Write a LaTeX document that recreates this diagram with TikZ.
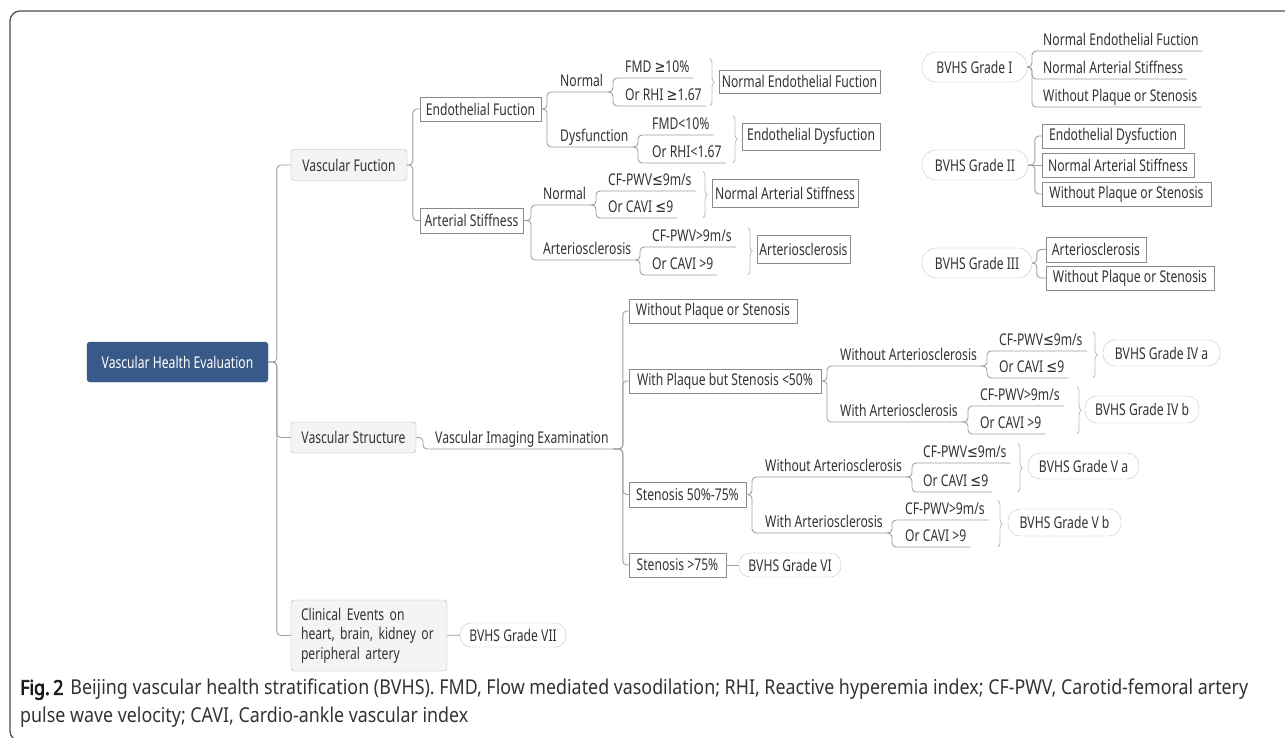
\documentclass[tikz,border=0pt]{standalone}
\usepackage{fontspec}
\setmainfont{Noto Sans}[FakeStretch=0.75]
\newfontfamily\capfont{Noto Sans}[FakeStretch=0.87]
\newfontfamily\capboldfont{Noto Sans}[FakeStretch=0.87, FakeBold=3]
\newfontfamily\symfont{DejaVu Sans}[FakeStretch=0.8]
\newcommand{\symge}{{\symfont ≥}}
\newcommand{\symle}{{\symfont ≤}}
\usepackage{tikz}
\usetikzlibrary{positioning,decorations.pathreplacing}

\definecolor{rootblue}{HTML}{385A88}
\definecolor{txt}{HTML}{333333}
\definecolor{linegray}{HTML}{A0A0A0}
\definecolor{boxline}{HTML}{8A8A8A}
\definecolor{pillline}{HTML}{C9C3B9}
\definecolor{topicfill}{HTML}{F4F4F4}
\definecolor{topicline}{HTML}{B2B2B2}
\definecolor{bracegray}{HTML}{BDBDBD}
\definecolor{framegray}{HTML}{4F4F4F}

\begin{document}
\begin{tikzpicture}[x=1pt, y=-1pt,
    every node/.style={font=\fontsize{16.2}{19.5}\selectfont, text=txt},
    root/.style={fill=rootblue, draw=rootblue, rounded corners=3, text=white, minimum width=181, minimum height=40, inner sep=0},
    topic/.style={draw=topicline, fill=topicfill, rounded corners=3, inner sep=0, minimum height=31},
    box/.style={draw=boxline, inner sep=0, minimum height=24},
    pill/.style={draw=pillline, rounded corners=12, inner sep=0, minimum height=26},
    cond/.style={anchor=south west, inner xsep=4, inner ysep=1.5, text height=12, text depth=4},
    link/.style={draw=linegray, line width=0.9, rounded corners=4},
    curly/.style={decorate, decoration={brace, amplitude=4.5}, draw=bracegray, line width=0.8},
    frame/.style={draw=framegray, line width=1.3, rounded corners=10},
    caption/.style={font=\capfont\fontsize{20.5}{28}\selectfont, align=left, inner sep=0, anchor=north west}
]
\useasboundingbox (0,0) rectangle (1285,738);
\draw[frame] (10,741) rectangle (1300,11);

% root and first level
\node[root] (root) at (177.5,362) {Vascular Health Evaluation};
\node[topic, minimum width=116] (vf) at (349,165) {Vascular Fuction};
\node[topic, minimum width=125] (vs) at (353.5,437.5) {Vascular Structure};
\node[topic, minimum width=156, minimum height=71, align=left, text width=136] (ce) at (369,635.5) {Clinical Events on\\heart, brain, kidney or\\peripheral artery};

% vascular function
\node[box, minimum width=121] (ef) at (480.5,109) {Endothelial Fuction};
\node[box, minimum width=103, minimum height=25] (as) at (471.5,220.5) {Arterial Stiffness};
\node[cond] (efn) at (556,92) {Normal};
\node[cond] (efd) at (556,147) {Dysfunction};
\node[cond] (efn1) at (621,78) {FMD \symge10\%};
\node[cond] (efn2) at (621,106) {Or RHI \symge1.67};
\node[cond] (efd1) at (648,135) {FMD<10\%};
\node[cond] (efd2) at (648,163) {Or RHI<1.67};
\node[box, minimum width=161, minimum height=23] (nef) at (799.5,81.5) {Normal Endothelial Fuction};
\node[box, minimum width=138, minimum height=27] (edr) at (811,136.5) {Endothelial Dysfuction};
\node[cond] (asn) at (539,205) {Normal};
\node[cond] (asa) at (539,260) {Arteriosclerosis};
\node[cond] (asn1) at (604,191) {CF-PWV\symle9m/s};
\node[cond] (asn2) at (604,218) {Or CAVI \symle9};
\node[cond] (asa1) at (648,247) {CF-PWV>9m/s};
\node[cond] (asa2) at (648,275) {Or CAVI >9};
\node[box, minimum width=146, minimum height=28] (nas) at (785,193) {Normal Arterial Stiffness};
\node[box, minimum width=93, minimum height=28] (asr) at (803.5,249) {Arteriosclerosis};

% grades I-III
\node[pill, minimum width=105, minimum height=30, rounded corners=14] (g1) at (974.5,67) {BVHS Grade I};
\node[cond] (g1a) at (1039,51) {Normal Endothelial Fuction};
\node[cond] (g1b) at (1039,79) {Normal Arterial Stiffness};
\node[cond] (g1c) at (1039,107) {Without Plaque or Stenosis};
\node[pill, minimum width=106, minimum height=30, rounded corners=14] (g2) at (975,165) {BVHS Grade II};
\node[box, minimum width=142] (g2a) at (1113,136) {Endothelial Dysfuction};
\node[box, minimum width=152] (g2b) at (1118,165) {Normal Arterial Stiffness};
\node[box, minimum width=169] (g2c) at (1126.5,194) {Without Plaque or Stenosis};
\node[pill, minimum width=110, minimum height=30, rounded corners=14] (g3) at (977,263) {BVHS Grade III};
\node[box, minimum width=100, minimum height=25] (g3a) at (1096,249.5) {Arteriosclerosis};
\node[box, minimum width=168] (g3b) at (1130,278) {Without Plaque or Stenosis};

% vascular structure
\node[cond] (vie) at (431,449) {Vascular Imaging Examination};
\node[box, minimum width=168] (wp) at (713,311) {Without Plaque or Stenosis};
\node[box, minimum width=192] (wpl) at (725,381) {With Plaque but Stenosis <50\%};
\node[box, minimum width=117, minimum height=25] (mid) at (687.5,494.5) {Stenosis 50\%-75\%};
\node[box, minimum width=97] (sev) at (677.5,565) {Stenosis >75\%};
\node[pill, minimum width=102, minimum height=24, rounded corners=11] (g6) at (790,565) {BVHS Grade VI};
\node[pill, minimum width=106, minimum height=24, rounded corners=11] (g7) at (513,635) {BVHS Grade VII};

\node[cond] (iva) at (836,366) {Without Arteriosclerosis};
\node[cond] (ivb) at (836,422) {With Arteriosclerosis};
\node[cond] (iva1) at (995,351) {CF-PWV\symle9m/s};
\node[cond] (iva2) at (995,378) {Or CAVI \symle9};
\node[cond] (ivb1) at (976,406) {CF-PWV>9m/s};
\node[cond] (ivb2) at (976,434) {Or CAVI >9};
\node[pill, minimum width=117] (g4a) at (1161.5,353) {BVHS Grade IV a};
\node[pill, minimum width=114, minimum height=27] (g4b) at (1142,409.5) {BVHS Grade IV b};

\node[cond] (va) at (761,477) {Without Arteriosclerosis};
\node[cond] (vb) at (761,533) {With Arteriosclerosis};
\node[cond] (va1) at (919,463) {CF-PWV\symle9m/s};
\node[cond] (va2) at (919,492) {Or CAVI \symle9};
\node[cond] (vb1) at (901,520) {CF-PWV>9m/s};
\node[cond] (vb2) at (901,547) {Or CAVI >9};
\node[pill, minimum width=111] (g5a) at (1083.5,466) {BVHS Grade V a};
\node[pill, minimum width=113, minimum height=27] (g5b) at (1064.5,522.5) {BVHS Grade V b};

\node[caption] (cap) at (20,679) {{\capboldfont\color{black!90}Fig.\,2}\hspace{7pt}Beijing vascular health stratification (BVHS). FMD, Flow mediated vasodilation; RHI, Reactive hyperemia index; CF-PWV, Carotid-femoral artery\\pulse wave velocity; CAVI, Cardio-ankle vascular index};

% connectors
\draw[link] (root.east) -| ([xshift=-14]vf.west) -- (vf.west);
\draw[link] (root.east) -| ([xshift=-14]vs.west) -- (vs.west);
\draw[link] (root.east) -| ([xshift=-14]ce.west) -- (ce.west);

\draw[link] (vf.east) -| ([xshift=-7]ef.west) -- (ef.west);
\draw[link] (vf.east) -| ([xshift=-7]as.west) -- (as.west);
\draw[link] (ef.east) -| ([xshift=-9]efn.south west) -- (efn.south east);
\draw[link] (ef.east) -| ([xshift=-9]efd.south west) -- (efd.south east);
\draw[link] (efn.south east) -| ([xshift=-8]efn1.south west) -- (efn1.south east);
\draw[link] (efn.south east) -| ([xshift=-8]efn2.south west) -- (efn2.south east);
\draw[link] (efd.south east) -| ([xshift=-10]efd1.south west) -- (efd1.south east);
\draw[link] (efd.south east) -| ([xshift=-10]efd2.south west) -- (efd2.south east);
\draw[link] (as.east) -| ([xshift=-8]asn.south west) -- (asn.south east);
\draw[link] (as.east) -| ([xshift=-8]asa.south west) -- (asa.south east);
\draw[link] (asn.south east) -| ([xshift=-8]asn1.south west) -- (asn1.south east);
\draw[link] (asn.south east) -| ([xshift=-8]asn2.south west) -- (asn2.south east);
\draw[link] (asa.south east) -| ([xshift=-8]asa1.south west) -- (asa1.south east);
\draw[link] (asa.south east) -| ([xshift=-8]asa2.south west) -- (asa2.south east);
\draw[curly] ([xshift=-9]nef.west |- efn1.north) -- ([xshift=-9]nef.west |- efn2.south);
\draw[curly] ([xshift=-9]edr.west |- efd1.north) -- ([xshift=-9]edr.west |- efd2.south);
\draw[curly] ([xshift=-9]nas.west |- asn1.north) -- ([xshift=-9]nas.west |- asn2.south);
\draw[curly] ([xshift=-9]asr.west |- asa1.north) -- ([xshift=-9]asr.west |- asa2.south);

\draw[link] (g1.east) -| ([xshift=-7]g1a.south west) -- (g1a.south east);
\draw[link] (g1.east) -| ([xshift=-7]g1b.south west) -- (g1b.south east);
\draw[link] (g1.east) -| ([xshift=-7]g1c.south west) -- (g1c.south east);
\draw[link] (g2.east) -| ([xshift=-7]g2a.west) -- (g2a.west);
\draw[link] (g2.east) -- (g2b.west);
\draw[link] (g2.east) -| ([xshift=-7]g2c.west) -- (g2c.west);
\draw[link] (g3.east) -| ([xshift=-9]g3a.west) -- (g3a.west);
\draw[link] (g3.east) -| ([xshift=-9]g3b.west) -- (g3b.west);

\draw[link] (vs.east) -| ([xshift=-8]vie.south west) -- (vie.south east);
\draw[link] (vie.south east) -| ([xshift=-6]wp.west) -- (wp.west);
\draw[link] (vie.south east) -| ([xshift=-6]wpl.west) -- (wpl.west);
\draw[link] (vie.south east) -| ([xshift=-6]mid.west) -- (mid.west);
\draw[link] (vie.south east) -| ([xshift=-6]sev.west) -- (sev.west);
\draw[link] (sev) -- (g6);
\draw[link] (ce) -- (g7);

\draw[link] (wpl.east) -| ([xshift=-9]iva.south west) -- (iva.south east);
\draw[link] (wpl.east) -| ([xshift=-9]ivb.south west) -- (ivb.south east);
\draw[link] (iva.south east) -| ([xshift=-8]iva1.south west) -- (iva1.south east);
\draw[link] (iva.south east) -| ([xshift=-8]iva2.south west) -- (iva2.south east);
\draw[link] (ivb.south east) -| ([xshift=-8]ivb1.south west) -- (ivb1.south east);
\draw[link] (ivb.south east) -| ([xshift=-8]ivb2.south west) -- (ivb2.south east);
\draw[curly] ([xshift=-10]g4a.west |- iva1.north) -- ([xshift=-10]g4a.west |- iva2.south);
\draw[curly] ([xshift=-8]g4b.west |- ivb1.north) -- ([xshift=-8]g4b.west |- ivb2.south);

\draw[link] (mid.east) -| ([xshift=-9]va.south west) -- (va.south east);
\draw[link] (mid.east) -| ([xshift=-9]vb.south west) -- (vb.south east);
\draw[link] (va.south east) -| ([xshift=-7]va1.south west) -- (va1.south east);
\draw[link] (va.south east) -| ([xshift=-7]va2.south west) -- (va2.south east);
\draw[link] (vb.south east) -| ([xshift=-9]vb1.south west) -- (vb1.south east);
\draw[link] (vb.south east) -| ([xshift=-9]vb2.south west) -- (vb2.south east);
\draw[curly] ([xshift=-10]g5a.west |- va1.north) -- ([xshift=-10]g5a.west |- va2.south);
\draw[curly] ([xshift=-10]g5b.west |- vb1.north) -- ([xshift=-10]g5b.west |- vb2.south);
\end{tikzpicture}
\end{document}
